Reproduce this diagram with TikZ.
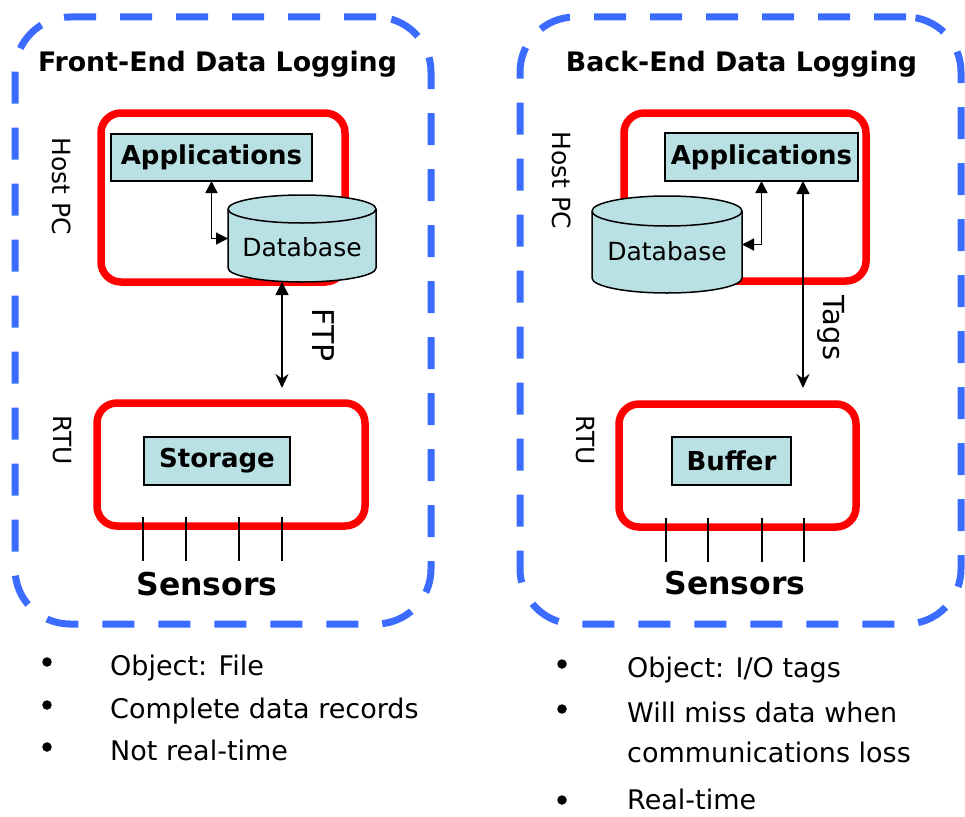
\documentclass[tikz,border=0pt]{standalone}
\usepackage{fontspec}
\setmainfont{DejaVu Sans}
\usetikzlibrary{arrows.meta}

\definecolor{areablue}{RGB}{59,108,255}
\definecolor{boxcyan}{RGB}{185,224,227}

\tikzset{
	logarea/.style={draw=areablue, line width=7pt, dash pattern=on 32pt off 24pt, rounded corners=55pt, minimum height=607pt, outer sep=0pt},
	redbox/.style={draw=red, line width=7.5pt, rounded corners=20pt, outer sep=0pt},
	appbox/.style={draw, fill=boxcyan, line width=1.5pt, inner sep=0pt, outer sep=0pt, font=\fontsize{26}{30}\selectfont\bfseries},
	dbnode/.style={draw=none, inner sep=0pt, outer sep=0pt},
	side/.style={rotate=-90, font=\fontsize{25}{30}\selectfont},
	item/.style={anchor=base west, inner sep=0pt, font=\fontsize{27}{32}\selectfont},
	dot/.style={circle, fill, inner sep=0pt, minimum size=9.5pt},
	link/.style={line width=1.5pt, {Triangle[length=12pt,width=12pt]}-{Triangle[length=12pt,width=12pt]}},
	longlink/.style={line width=1.5pt, {Triangle[length=13pt,width=13pt]}-{Stealth[length=14pt,width=13pt]}},
}

% cylinder drawn round a named node: #1 name, #2 x radius, #3 y radius
\newcommand{\drawdb}[3]{%
	\filldraw[fill=boxcyan, line width=1.5pt]
		([yshift=-#3pt]#1.north west) -- ([yshift=#3pt]#1.south west)
		arc[start angle=180, end angle=360, x radius=#2pt, y radius=#3pt]
		-- ([yshift=-#3pt]#1.north east)
		arc[start angle=0, end angle=180, x radius=#2pt, y radius=#3pt] -- cycle;
	\draw[line width=1.5pt] ([yshift=-#3pt]#1.north west)
		arc[start angle=180, end angle=360, x radius=#2pt, y radius=#3pt];
}

\begin{document}
\begin{tikzpicture}[x=1pt, y=-1pt]
	\useasboundingbox (0,0) rectangle (965,816);
	
	% Draw the two areas
	\node[logarea, minimum width=416pt] (lfront) at (223,320.5) {};
	\node[logarea, minimum width=441pt] (rback) at (740.5,320.5) {};
	\node[anchor=base, font=\fontsize{26.8}{30}\selectfont\bfseries] (ltitle) at (217.5,71) {Front-End Data Logging};
	\node[anchor=base, font=\fontsize{26.8}{30}\selectfont\bfseries] (rtitle) at (741.5,71) {Back-End Data Logging};
	
	% Front-end side
	\node[redbox, minimum width=244pt, minimum height=169pt] (lhost) at (223,197.5) {};
	\node[redbox, minimum width=268pt, minimum height=123pt] (lrtu) at (231,464.5) {};
	\node[appbox, minimum width=201pt, minimum height=47pt] (lapp) at (211.5,157.5) {Applications};
	\node[dbnode, minimum width=148pt, minimum height=87pt] (ldb) at (302,238.5) {};
	\drawdb{ldb}{74}{14}
	\node[font=\fontsize{25}{30}\selectfont] (ldbtext) at ([yshift=-9pt]ldb.center) {Database};
	\node[appbox, minimum width=146pt, minimum height=48pt] (lstore) at (217,461) {Storage};
	\node[side] (lhostlbl) at (62,186) {Host PC};
	\node[side] (lrtulbl) at (62,440) {RTU};
	
	\draw[link] (lapp.south) |- (ldb.west);
	\coordinate (lftp) at (282,388);
	\draw[longlink] (lftp |- ldb.south) -- node[midway, xshift=41pt, rotate=-90, font=\fontsize{30}{34}\selectfont] (ftplbl) {FTP} (lftp);
	
	\foreach \dx in {-88,-45,8,51}
		\draw[line width=1.5pt] ([shift={(\dx,-9)}]lrtu.south) -- ++(0,44);
	\node[font=\fontsize{31.5}{36}\selectfont\bfseries] (lsens) at (207,584) {Sensors};
	
	% Back-end side
	\node[redbox, minimum width=242pt, minimum height=168pt] (rhost) at (745,197) {};
	\node[redbox, minimum width=237pt, minimum height=123pt] (rrtu) at (737.5,465.5) {};
	\node[appbox, minimum width=193pt, minimum height=48pt] (rapp) at (761.5,157) {Applications};
	\node[dbnode, minimum width=150pt, minimum height=97pt] (rdb) at (667,244.5) {};
	\drawdb{rdb}{75}{15}
	\node[font=\fontsize{25}{30}\selectfont] (rdbtext) at ([yshift=-7pt]rdb.center) {Database};
	\node[appbox, minimum width=119pt, minimum height=48pt] (rbuf) at (731.5,461) {Buffer};
	\node[side] (rhostlbl) at (562,180) {Host PC};
	\node[side] (rrtulbl) at (585,440) {RTU};
	
	\draw[link] (rapp.south) |- (rdb.east);
	\coordinate (rtags) at (803,388);
	\draw[longlink] (rtags |- rapp.south) -- node[pos=0.71, xshift=28pt, rotate=-90, font=\fontsize{29}{34}\selectfont] (tagslbl) {Tags} (rtags);
	
	\foreach \dx in {-71.5,-29.5,24.5,66.5}
		\draw[line width=1.5pt] ([shift={(\dx,-9)}]rrtu.south) -- ++(0,44);
	\node[font=\fontsize{31.5}{36}\selectfont\bfseries] (rsens) at (735,583) {Sensors};
	
	% Bullet lists
	\node[dot] (ld1) at (47,662) {};
	\node[dot] (ld2) at (47,705) {};
	\node[dot] (ld3) at (47,747) {};
	\node[item] (lt1) at (110,675) {Object: File};
	\node[item] (lt2) at (110,718) {Complete data records};
	\node[item] (lt3) at (110,760) {Not real-time};
	
	\node[dot] (rd1) at (562,664) {};
	\node[dot] (rd2) at (562,709) {};
	\node[dot] (rd3) at (562,800) {};
	\node[item] (rt1) at (627,677) {Object: I/O tags};
	\node[item] (rt2) at (627,722) {Will miss data when};
	\node[item] (rt2b) at (627,762) {communications loss};
	\node[item] (rt3) at (627,809) {Real-time};
\end{tikzpicture}
\end{document}
